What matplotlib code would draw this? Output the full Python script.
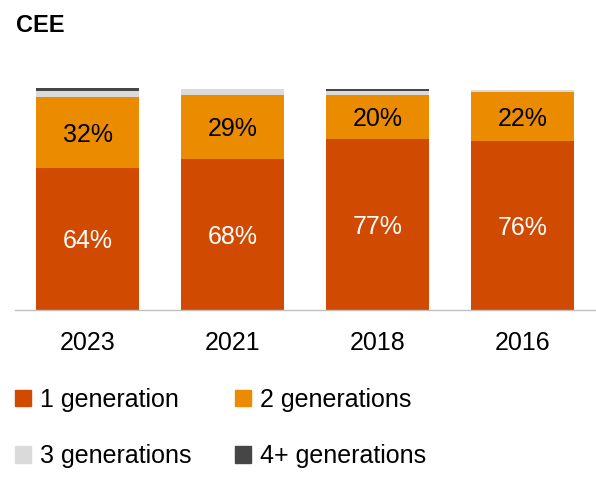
import matplotlib.pyplot as plt
from matplotlib.patches import Patch

plt.rcParams['font.family'] = ['Liberation Sans', 'DejaVu Sans']

# Data (share of respondents, %)
years = ['2023', '2021', '2018', '2016']
gen1 = [64, 68, 77, 76]
gen2 = [32, 29, 20, 22]
gen3 = [2.5, 2.5, 1.5, 1]
gen4 = [1.5, 0, 1, 0]

series_names = ['1 generation', '2 generations', '3 generations', '4+ generations']
colors = ['#D04A02', '#EB8C00', '#DADADA', '#464646']

W, H = 596, 484
fig = plt.figure(figsize=(W / 100, H / 100), dpi=100)
ax = fig.add_axes([15 / W, (H - 310) / H, 580 / W, 222 / H])

x = range(len(years))
bottom = [0] * len(years)
for vals, col in zip([gen1, gen2, gen3, gen4], colors):
    ax.bar(x, vals, bottom=bottom, width=0.71, color=col, linewidth=0)
    bottom = [b + v for b, v in zip(bottom, vals)]

# value labels for the two big segments
for i in x:
    ax.text(i, gen1[i] / 2, f'{gen1[i]}%', ha='center', va='center_baseline',
            color='white', fontsize=18)
    ax.text(i, gen1[i] + gen2[i] / 2, f'{gen2[i]}%', ha='center',
            va='center_baseline', color='black', fontsize=18)

ax.set_xlim(-0.5, 3.5)
ax.set_ylim(0, 100)
ax.set_xticks(list(x))
ax.set_xticklabels(years, fontsize=18)
ax.tick_params(axis='x', length=0, pad=15)
ax.set_yticks([])
for s in ['top', 'right', 'left']:
    ax.spines[s].set_visible(False)
ax.spines['bottom'].set_color('#BFBFBF')
ax.spines['bottom'].set_linewidth(1)

fig.text(16 / W, 1 - 25 / H, 'CEE', fontsize=17, fontweight='bold', va='center')

# legend, filled column-wise -> order 1,3,2,4
handles = [Patch(color=c) for c in colors]
order = [0, 2, 1, 3]
fig.legend([handles[i] for i in order], [series_names[i] for i in order],
           ncol=2, loc='upper left', bbox_to_anchor=(15 / W, 1 - 388 / H),
           frameon=False, fontsize=18, handlelength=0.64, handleheight=0.64,
           handletextpad=0.36, columnspacing=1.72, labelspacing=1.3,
           borderaxespad=0, borderpad=0)

fig.savefig('out.png', dpi=100)
